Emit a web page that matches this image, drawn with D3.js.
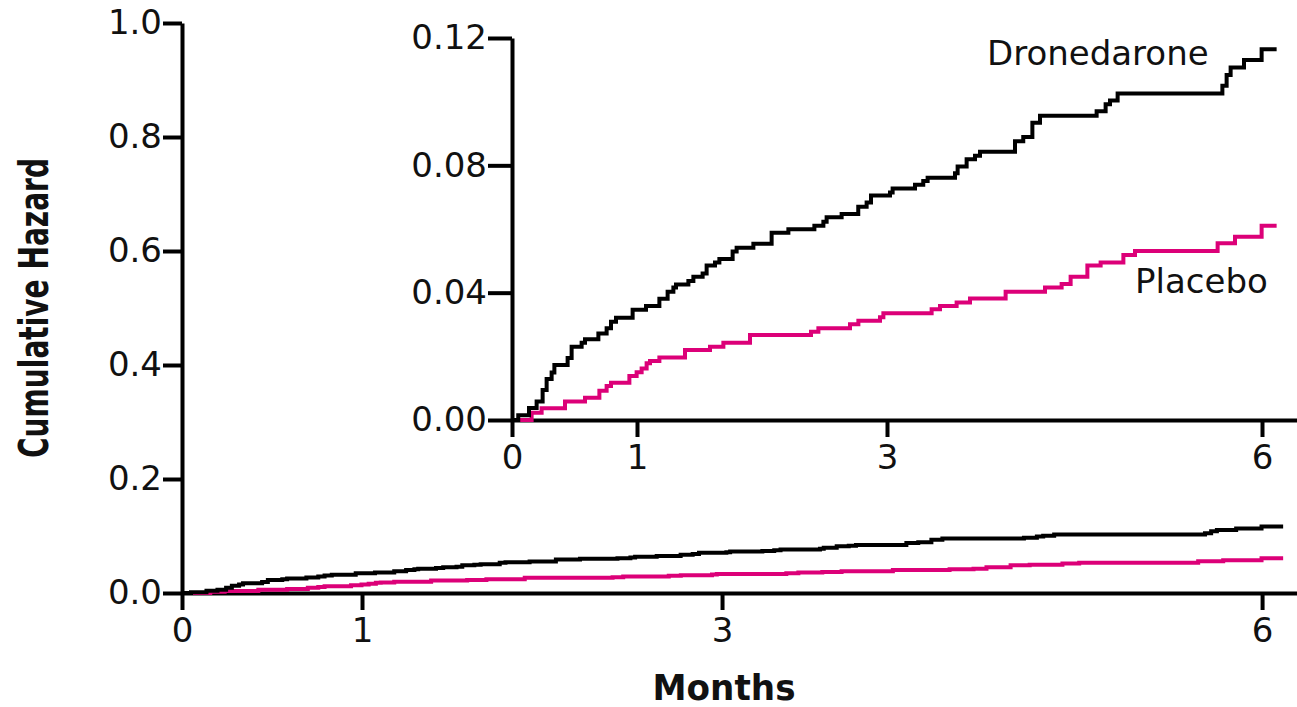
<!DOCTYPE html>
<html>
<head>
<meta charset="utf-8">
<script src="https://cdn.jsdelivr.net/npm/d3@7"></script>
<style>
  html, body { margin: 0; padding: 0; background: #fff; }
  svg { display: block; }
</style>
</head>
<body>
<svg id="chart" width="1297" height="707"></svg>
<script>
// ---- Data (months, cumulative hazard) ----
const dronedaroneTimes = [0, 0.05, 0.136, 0.197, 0.245, 0.277, 0.317, 0.339, 0.445, 0.477, 0.557, 0.584, 0.691, 0.757, 0.792, 0.832, 0.965, 1.072, 1.179, 1.245, 1.291, 1.312, 1.411, 1.451, 1.525, 1.557, 1.624, 1.659, 1.765, 1.797, 1.931, 2.077, 2.211, 2.419, 2.491, 2.517, 2.637, 2.77, 2.837, 2.872, 3.024, 3.045, 3.224, 3.29, 3.325, 3.544, 3.565, 3.637, 3.704, 3.744, 4.024, 4.09, 4.163, 4.224, 4.677, 4.749, 4.784, 4.845, 5.683, 5.717, 5.749, 5.856, 5.997, 6.117];
const dronedaroneHazard = [0, 0.0015, 0.0038, 0.0058, 0.0094, 0.0129, 0.0149, 0.0173, 0.0195, 0.023, 0.0243, 0.0254, 0.0272, 0.0288, 0.0309, 0.0321, 0.0346, 0.0358, 0.0381, 0.0403, 0.0416, 0.0426, 0.0437, 0.045, 0.046, 0.0485, 0.0495, 0.0506, 0.0529, 0.0541, 0.0554, 0.0588, 0.0599, 0.061, 0.0623, 0.0637, 0.0647, 0.067, 0.0683, 0.0705, 0.0715, 0.0727, 0.0739, 0.0751, 0.0761, 0.0775, 0.0796, 0.0819, 0.083, 0.0843, 0.0876, 0.0889, 0.0934, 0.0956, 0.097, 0.0992, 0.1004, 0.1026, 0.105, 0.1084, 0.1107, 0.1131, 0.1165, 0.1165];

const placeboTimes = [0, 0.157, 0.237, 0.424, 0.584, 0.699, 0.757, 0.792, 0.939, 0.997, 1.037, 1.077, 1.104, 1.179, 1.384, 1.584, 1.691, 1.904, 2.392, 2.451, 2.704, 2.771, 2.944, 2.971, 3.357, 3.424, 3.557, 3.664, 3.949, 4.264, 4.397, 4.469, 4.603, 4.709, 4.891, 4.984, 5.645, 5.784, 5.997, 6.117];
const placeboHazard = [0, 0.0023, 0.0037, 0.0058, 0.007, 0.0092, 0.0107, 0.0117, 0.0138, 0.015, 0.0162, 0.0178, 0.0185, 0.0196, 0.022, 0.023, 0.0243, 0.0267, 0.0277, 0.0288, 0.0301, 0.0312, 0.0323, 0.0335, 0.0348, 0.0358, 0.0369, 0.0382, 0.0403, 0.0416, 0.0427, 0.045, 0.0485, 0.0495, 0.0518, 0.0531, 0.0555, 0.0576, 0.061, 0.061];

const monthTicks = [0, 1, 3, 6];
const mainYTicks = [0, 0.2, 0.4, 0.6, 0.8, 1.0];
const insetYTicks = [0, 0.04, 0.08, 0.12];

const seriesNames = ["Dronedarone", "Placebo"];
const seriesColors = ["#000000", "#dc0078"];

// ---- Build series ----
const series = [
  { name: seriesNames[0], color: seriesColors[0], pts: dronedaroneTimes.map((t, i) => [t, dronedaroneHazard[i]]) },
  { name: seriesNames[1], color: seriesColors[1], pts: placeboTimes.map((t, i) => [t, placeboHazard[i]]) }
];

const svg = d3.select("#chart");
const FONT = "'DejaVu Sans', Verdana, sans-serif";
const TXT = "#111";
const SW = 4;

// ---- Main panel scales ----
const xMain = d3.scaleLinear().domain([0, 6.194]).range([182, 1297]);
const yMain = d3.scaleLinear().domain([0, 1]).range([593, 23]);

// ---- Inset scales ----
const xIn = d3.scaleLinear().domain([0, 6.28]).range([512, 1297]);
const yIn = d3.scaleLinear().domain([0, 0.12]).range([420, 38]);

function styleAxis(g) {
  g.selectAll("path.domain").attr("stroke", "#000").attr("stroke-width", SW);
  g.selectAll(".tick line").attr("stroke", "#000").attr("stroke-width", SW);
  g.selectAll(".tick text").attr("fill", TXT).style("font-family", FONT).style("font-size", "34px");
}

// Main axes
const gMainX = svg.append("g").attr("transform", `translate(0,${yMain(0)})`)
  .call(d3.axisBottom(xMain).tickValues(monthTicks).tickFormat(d3.format("d")).tickSize(17).tickSizeOuter(0).tickPadding(8));
styleAxis(gMainX);
const gMainY = svg.append("g").attr("transform", `translate(${xMain(0)},0)`)
  .call(d3.axisLeft(yMain).tickValues(mainYTicks).tickFormat(d3.format(".1f")).tickSize(19).tickSizeOuter(0).tickPadding(1));
styleAxis(gMainY);

// Inset axes
const gInX = svg.append("g").attr("transform", `translate(0,${yIn(0)})`)
  .call(d3.axisBottom(xIn).tickValues(monthTicks).tickFormat(d3.format("d")).tickSize(17).tickSizeOuter(0).tickPadding(8));
styleAxis(gInX);
const gInY = svg.append("g").attr("transform", `translate(${xIn(0)},0)`)
  .call(d3.axisLeft(yIn).tickValues(insetYTicks).tickFormat(d3.format(".2f")).tickSize(24).tickSizeOuter(0).tickPadding(1));
styleAxis(gInY);

// Lines
function drawLines(xs, ys) {
  const line = d3.line().x(d => xs(d[0])).y(d => ys(d[1])).curve(d3.curveStepAfter);
  series.slice().reverse().forEach(s => {
    svg.append("path")
      .datum(s.pts)
      .attr("d", line)
      .attr("fill", "none")
      .attr("stroke", s.color)
      .attr("stroke-width", SW)
      .attr("stroke-linejoin", "miter");
  });
}
drawLines(xMain, yMain);
drawLines(xIn, yIn);

// Series labels
svg.append("text").attr("x", 987).attr("y", 65)
  .style("font-family", FONT).style("font-size", "34px").attr("fill", TXT).text(seriesNames[0]);
svg.append("text").attr("x", 1135).attr("y", 293)
  .style("font-family", FONT).style("font-size", "34px").attr("fill", TXT).text(seriesNames[1]);

// Axis titles
svg.append("text").attr("x", 724).attr("y", 700).attr("text-anchor", "middle")
  .style("font-family", FONT).style("font-size", "36px").style("font-weight", "bold")
  .attr("textLength", 143).attr("lengthAdjust", "spacingAndGlyphs")
  .attr("fill", TXT).text("Months");
svg.append("text").attr("transform", "translate(48,308) rotate(-90)").attr("text-anchor", "middle")
  .style("font-family", FONT).style("font-size", "40px").style("font-weight", "bold")
  .attr("textLength", 300).attr("lengthAdjust", "spacingAndGlyphs")
  .attr("fill", TXT).text("Cumulative Hazard");
</script>
</body>
</html>
